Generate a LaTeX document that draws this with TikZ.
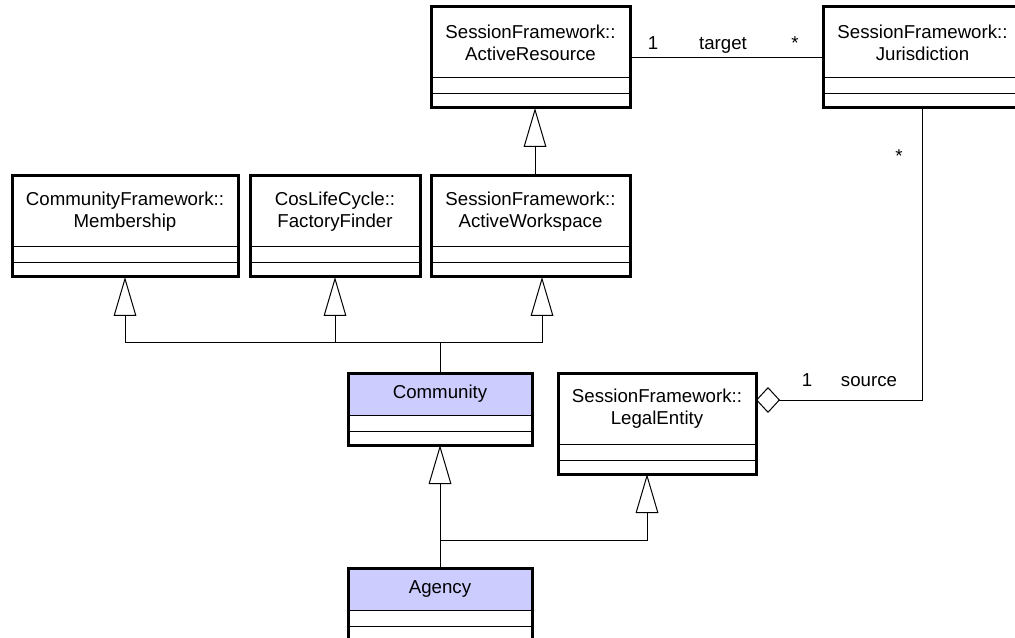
\documentclass[tikz,border=0pt]{standalone}
\usepackage{fontspec}
\setmainfont{Liberation Sans}
\usetikzlibrary{calc}
\usetikzlibrary{arrows.meta, positioning, fit}
\definecolor{classfill}{RGB}{204,204,255}

\begin{document}
\begin{tikzpicture}[x=0.75pt,y=-0.75pt,
	font=\fontsize{14pt}{16.5pt}\selectfont,
	head/.style={draw, line width=0.75pt, inner sep=0pt, outer sep=0pt,
		align=center, minimum height=53.25pt, anchor=north west},
	comp/.style={draw, line width=0.75pt, inner sep=0pt, outer sep=0pt},
	frame/.style={draw, line width=2.25pt, inner sep=0pt, outer sep=0pt},
	gen/.style={-{Triangle[open,length=29.25pt,width=17pt]}, line width=0.75pt},
	aggr/.style={{Diamond[open,length=18pt,width=19.5pt]}-, line width=0.75pt},
	lbl/.style={anchor=base, inner sep=0pt},
]
	\useasboundingbox (0,0) rectangle (1015,638);
	\clip (0,0) rectangle (1015,638);

	% class headers
	\node[head, minimum width=149.25pt] (ar) at (431,7) {SessionFramework::\\ActiveResource};
	\node[head, minimum width=149.25pt] (jur) at (823,7) {SessionFramework::\\Jurisdiction};
	\node[head, minimum width=169.5pt] (mem) at (12,176) {CommunityFramework::\\Membership};
	\node[head, minimum width=127.5pt] (ff) at (250,176) {CosLifeCycle::\\FactoryFinder};
	\node[head, minimum width=149.25pt] (aw) at (431,176) {SessionFramework::\\ActiveWorkspace};
	\node[head, minimum width=138pt, minimum height=31.5pt, fill=classfill] (com) at (348,373) {Community};
	\node[head, minimum width=148.5pt] (le) at (558,373) {SessionFramework::\\LegalEntity};
	\node[head, minimum width=138pt, minimum height=31.5pt, fill=classfill] (ag) at (348,568) {Agency};

	% compartments and outer frames
	\foreach \c/\w in {ar/149.25pt, jur/149.25pt, mem/169.5pt, ff/127.5pt,
			aw/149.25pt, com/138pt, le/148.5pt, ag/138pt}{
		\node[comp, minimum width=\w, minimum height=12pt, below=0pt of \c] (\c-a) {};
		\node[comp, minimum width=\w, minimum height=10.5pt, below=0pt of \c-a] (\c-b) {};
		\node[frame, fit=(\c)(\c-b)] (\c-box) {};
	}

	% association target
	\draw[line width=0.75pt] (ar-box.east) -- (ar-box.east -| jur-box.west);
	\node[lbl] (t-one) at (653,50) {1};
	\node[lbl] (t-role) at (723,50) {target};
	\node[lbl] (t-many) at (795,50) {*};

	% aggregation source
	\coordinate (src) at (jur-box.south |- 0,400);
	\draw[aggr] (le-box.east |- src) -- (src) -- (jur-box.south);
	\node[lbl] (s-many) at (899,163) {*};
	\node[lbl] (s-one) at (807,386) {1};
	\node[lbl] (s-role) at (869,386) {source};

	% generalizations
	\coordinate (j1) at (com-box.north |- 0,343);
	\coordinate (aw-in) at ($(aw-box.south)+(11.5,0)$);
	\coordinate (ar-out) at ($(ar-box.south)+(4.5,0)$);
	\draw[gen] (ar-out |- aw-box.north) -- (ar-out);
	\draw[gen] (j1) -- (mem-box.south |- j1) -- (mem-box.south);
	\draw[gen] (ff-box.south |- j1) -- (ff-box.south);
	\draw[gen] (j1) -- (aw-in |- j1) -- (aw-in);
	\draw[line width=0.75pt] (com-box.north) -- (j1);

	\coordinate (j2) at (ag-box.north |- 0,540);
	\coordinate (le-in) at ($(le-box.south)+(-10,0)$);
	\draw[gen] (ag-box.north) -- (com-box.south);
	\draw[gen] (j2) -- (le-in |- j2) -- (le-in);

\end{tikzpicture}
\end{document}
